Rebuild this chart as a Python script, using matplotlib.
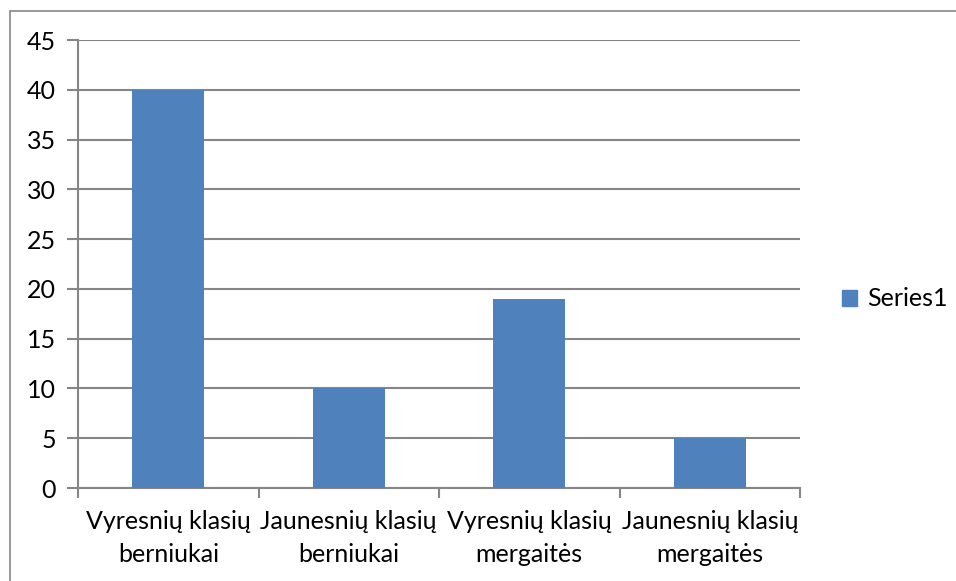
import matplotlib
matplotlib.use("Agg")
import matplotlib.pyplot as plt
from matplotlib.patches import Rectangle, Patch

categories = ["Vyresnių klasių\nberniukai", "Jaunesnių klasių\nberniukai",
              "Vyresnių klasių\nmergaitės", "Jaunesnių klasių\nmergaitės"]
values = [40, 10, 19, 5]
yticks = [0, 5, 10, 15, 20, 25, 30, 35, 40, 45]
series_name = "Series1"

plt.rcParams['font.family'] = ['Lato', 'DejaVu Sans']
FS = 18
GRID = '#868686'
BAR = '#4F81BD'

W, H = 956, 581
fig = plt.figure(figsize=(W/100, H/100), dpi=100)
fig.patches.append(Rectangle((10/W, -0.1), 2, 1.1 - 11/H, transform=fig.transFigure,
                             fill=False, edgecolor=GRID, linewidth=1.2))
ax = fig.add_axes([78/W, (H-488)/H, (800-78)/W, (488-40)/H])

x = list(range(len(values)))
ax.bar(x, values, width=0.4, color=BAR, zorder=3)
ax.set_xlim(-0.5, len(values) - 0.5)
ax.set_ylim(0, 45)
ax.set_yticks(yticks)
ax.set_yticklabels([str(t) for t in yticks], fontsize=FS)
ax.yaxis.grid(True, color=GRID, linewidth=1.5, zorder=0)
for s in ['top', 'right']:
    ax.spines[s].set_visible(False)
for s in ['left', 'bottom']:
    ax.spines[s].set_color(GRID)
    ax.spines[s].set_linewidth(1.5)
ax.tick_params(axis='y', length=8, width=1.5, color=GRID, pad=8)
ax.set_xticks([i - 0.5 for i in range(len(values) + 1)])
ax.set_xticklabels([])
ax.tick_params(axis='x', which='major', length=7, width=1.5, color=GRID)
ax.set_xticks(x, minor=True)
ax.set_xticklabels(categories, minor=True, fontsize=FS, linespacing=1.5)
ax.tick_params(axis='x', which='minor', length=0, pad=16)

fig.legend(handles=[Patch(color=BAR, label=series_name)], loc='center left',
           bbox_to_anchor=(842/W, (H-299)/H), frameon=False, fontsize=FS,
           borderaxespad=0, borderpad=0,
           handlelength=0.6, handleheight=0.6, handletextpad=0.4)

fig.savefig("out.png", dpi=100)
